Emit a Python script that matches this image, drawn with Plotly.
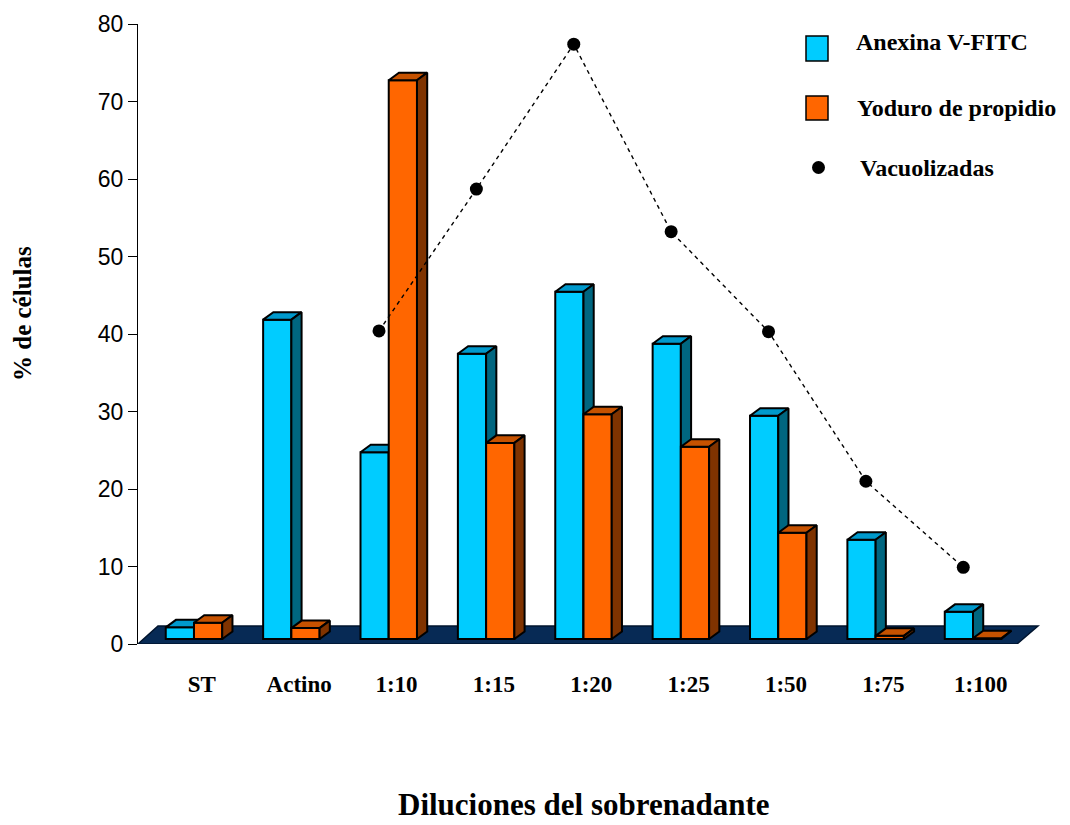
import plotly.graph_objects as go

# ---- data -------------------------------------------------------------
categories = ["ST", "Actino", "1:10", "1:15", "1:20", "1:25", "1:50", "1:75", "1:100"]
anexina = [1.5, 41.2, 24.1, 36.8, 44.8, 38.1, 28.8, 12.8, 3.5]
yoduro = [2.1, 1.4, 72.1, 25.3, 29.0, 24.8, 13.7, 0.4, 0.1]
vac_categories = ["1:10", "1:15", "1:20", "1:25", "1:50", "1:75", "1:100"]
vacuolizadas = [40.4, 58.7, 77.4, 53.2, 40.3, 21.0, 9.9]
y_ticks = [0, 10, 20, 30, 40, 50, 60, 70, 80]

# ---- geometry of the pseudo-3D bars -----------------------------------
W = 0.29        # bar width (category units)
DX = 0.105      # depth offset along x (category units)
DY = 0.97       # depth offset along y (% units)
FLOOR = 0.65    # level where bar fronts stand on the floor
X_RANGE = [-0.575, 8.688]
Y_RANGE = [0, 80]

# page layout in pixels
FIG_W, FIG_H = 1070, 825
M_L, M_R, M_T, M_B = 138, 30, 24, 181
PLOT_W = FIG_W - M_L - M_R
PLOT_H = FIG_H - M_T - M_B

SERIF = "Liberation Serif, Times New Roman, serif"
SANS = "Liberation Sans, Arial, sans-serif"

CYAN = "#00CCFF"
CYAN_TOP = "#0099CC"
CYAN_SIDE = "#006680"
ORANGE = "#FF6600"
ORANGE_TOP = "#C65200"
ORANGE_SIDE = "#7F3300"

pos = list(range(len(categories)))


def px_x(px):
    return (px - M_L) / PLOT_W


def px_y(py):
    return (M_T + PLOT_H - py) / PLOT_H


def data_x(px):
    return X_RANGE[0] + (px - M_L) / PLOT_W * (X_RANGE[1] - X_RANGE[0])


def data_y(py):
    return Y_RANGE[0] + (M_T + PLOT_H - py) / PLOT_H * (Y_RANGE[1] - Y_RANGE[0])


def faces(values, offset):
    """Top and right-side parallelograms for a row of bars."""
    tx, ty, sx, sy = [], [], [], []
    for c, v in zip(pos, values):
        x0 = c + offset
        x1 = x0 + W
        t = FLOOR + v
        tx += [x0, x1, x1 + DX, x0 + DX, x0, None]
        ty += [t, t, t + DY, t + DY, t, None]
        sx += [x1, x1 + DX, x1 + DX, x1, x1, None]
        sy += [FLOOR, FLOOR + DY, t + DY, t, FLOOR, None]
    return tx, ty, sx, sy


fig = go.Figure()

outline = dict(color="black", width=2)

# Anexina V-FITC (base subplot)
fig.add_trace(go.Bar(
    x=pos, y=anexina, base=[FLOOR] * len(pos), width=W, offset=-W,
    marker=dict(color=CYAN, line=outline), name="Anexina V-FITC",
    xaxis="x", yaxis="y", showlegend=False,
))
ctx, cty, csx, csy = faces(anexina, -W)
fig.add_trace(go.Scatter(x=ctx, y=cty, mode="lines", fill="toself", fillcolor=CYAN_TOP,
                         line=dict(color="black", width=2), xaxis="x", yaxis="y",
                         showlegend=False, hoverinfo="skip"))
fig.add_trace(go.Scatter(x=csx, y=csy, mode="lines", fill="toself", fillcolor=CYAN_SIDE,
                         line=dict(color="black", width=2), xaxis="x", yaxis="y",
                         showlegend=False, hoverinfo="skip"))

# Yoduro de propidio (overlay subplot, drawn in front)
fig.add_trace(go.Bar(
    x=pos, y=yoduro, base=[FLOOR] * len(pos), width=W, offset=0,
    marker=dict(color=ORANGE, line=outline), name="Yoduro de propidio",
    xaxis="x2", yaxis="y2", showlegend=False,
))
otx, oty, osx, osy = faces(yoduro, 0)
fig.add_trace(go.Scatter(x=otx, y=oty, mode="lines", fill="toself", fillcolor=ORANGE_TOP,
                         line=dict(color="black", width=2), xaxis="x2", yaxis="y2",
                         showlegend=False, hoverinfo="skip"))
fig.add_trace(go.Scatter(x=osx, y=osy, mode="lines", fill="toself", fillcolor=ORANGE_SIDE,
                         line=dict(color="black", width=2), xaxis="x2", yaxis="y2",
                         showlegend=False, hoverinfo="skip"))

# Vacuolizadas
vac_x = [categories.index(c) - 0.1 for c in vac_categories]
fig.add_trace(go.Scatter(
    x=vac_x, y=vacuolizadas, mode="lines+markers", name="Vacuolizadas",
    line=dict(color="black", width=1.4, dash="4px,4px"),
    marker=dict(color="black", size=13),
    xaxis="x2", yaxis="y2", showlegend=False, cliponaxis=False,
))

# floor plane
fl = [(data_x(138), data_y(644)), (data_x(1017), data_y(644)),
      (data_x(1038), data_y(626)), (data_x(158), data_y(626))]
floor_path = "M " + " L ".join(f"{x},{y}" for x, y in fl) + " Z"

shapes = [dict(type="path", path=floor_path, xref="x", yref="y", layer="below",
               fillcolor="#072a55", line=dict(color="#00142e", width=1.5))]

# legend
shapes += [
    dict(type="rect", xref="paper", yref="paper", x0=px_x(806), x1=px_x(828),
         y0=px_y(61), y1=px_y(36), fillcolor=CYAN, line=dict(color="black", width=1.5)),
    dict(type="rect", xref="paper", yref="paper", x0=px_x(806), x1=px_x(828),
         y0=px_y(120), y1=px_y(96), fillcolor=ORANGE, line=dict(color="black", width=1.5)),
    dict(type="circle", xref="paper", yref="paper", x0=px_x(812), x1=px_x(825),
         y0=px_y(174), y1=px_y(161), fillcolor="black", line=dict(color="black", width=0)),
]

legend_font = dict(family=SERIF, size=24, color="black", weight="bold")
annotations = [
    dict(text="Anexina V-FITC", x=px_x(854), y=px_y(42), xref="paper", yref="paper",
         xanchor="left", yanchor="middle", showarrow=False, font=legend_font),
    dict(text="Yoduro de propidio", x=px_x(855), y=px_y(108), xref="paper", yref="paper",
         xanchor="left", yanchor="middle", showarrow=False, font=legend_font),
    dict(text="Vacuolizadas", x=px_x(858), y=px_y(168), xref="paper", yref="paper",
         xanchor="left", yanchor="middle", showarrow=False, font=legend_font),
    dict(text="% de células", x=px_x(22), y=px_y(314), xref="paper", yref="paper",
         xanchor="center", yanchor="middle", textangle=-90, showarrow=False,
         font=dict(family=SERIF, size=25, color="black", weight="bold")),
    dict(text="Diluciones del sobrenadante", x=px_x(583), y=px_y(824), xref="paper",
         yref="paper", xanchor="center", yanchor="bottom", showarrow=False,
         font=dict(family=SERIF, size=31, color="black", weight="bold")),
]

fig.update_layout(
    width=FIG_W, height=FIG_H,
    margin=dict(l=M_L, r=M_R, t=M_T, b=M_B, pad=0),
    paper_bgcolor="white", plot_bgcolor="white",
    barmode="overlay",
    showlegend=False,
    shapes=shapes,
    annotations=annotations,
    xaxis=dict(
        range=X_RANGE, showgrid=False, zeroline=False, showline=False,
        tickmode="array", tickvals=[p + 0.08 for p in pos], ticktext=categories,
        ticks="", ticklabelstandoff=24,
        tickfont=dict(family=SERIF, size=23, color="black", weight="bold"),
    ),
    yaxis=dict(
        range=Y_RANGE, showgrid=False, zeroline=False,
        showline=True, linecolor="black", linewidth=1,
        tickmode="array", tickvals=y_ticks, ticks="outside", ticklen=9,
        tickcolor="black", tickwidth=1,
        tickfont=dict(family=SANS, size=23, color="black"),
    ),
    xaxis2=dict(range=X_RANGE, overlaying="x", visible=False),
    yaxis2=dict(range=Y_RANGE, overlaying="y", visible=False),
)

fig.write_html("out.html")
